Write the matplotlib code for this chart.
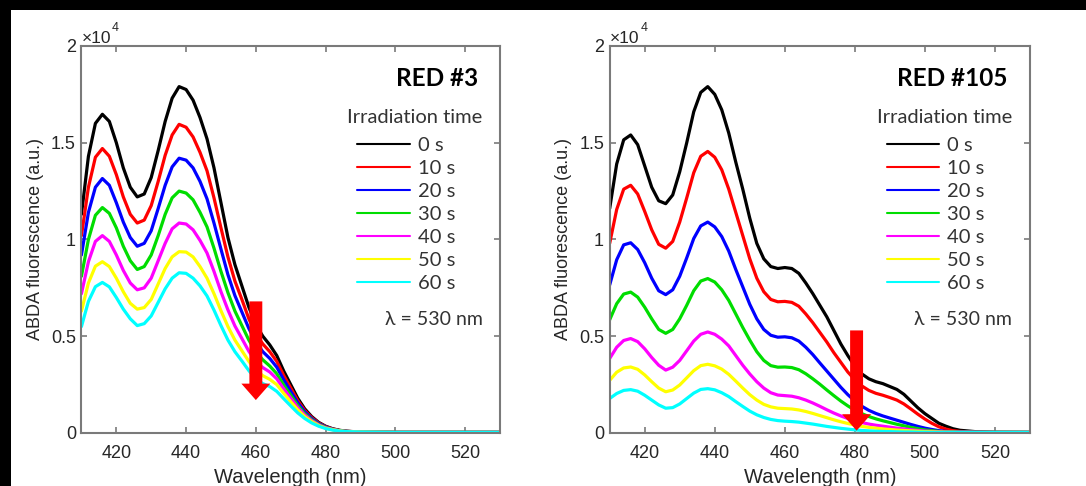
import numpy as np
import matplotlib
matplotlib.use("Agg")
import matplotlib.pyplot as plt
from matplotlib.patches import Rectangle

# ---- data (fluorescence in units of 1e4) ----
times = ["0 s", "10 s", "20 s", "30 s", "40 s", "50 s", "60 s"]
colors = ["#000000", "#ff0000", "#0000ff", "#00dd00", "#ff00ff", "#ffff00", "#00ffff"]

# RED #3
wl_red3 = list(range(410, 488, 2)) + [490, 495, 500, 510, 520, 530]
red3_tail = [0.005, 0.004, 0.003, 0.003, 0.003, 0.003]
red3_0s = [1.13, 1.43, 1.60, 1.647, 1.61, 1.50, 1.37, 1.27, 1.22, 1.235,
           1.32, 1.46, 1.61, 1.73, 1.79, 1.775, 1.72, 1.63, 1.52, 1.37,
           1.19, 1.01, 0.87, 0.76, 0.65, 0.56, 0.50, 0.455, 0.40, 0.32,
           0.25, 0.18, 0.125, 0.085, 0.055, 0.035, 0.022, 0.014, 0.009] + red3_tail
red3_10s = [1.02, 1.27, 1.425, 1.47, 1.43, 1.335, 1.22, 1.13, 1.085, 1.10,
            1.175, 1.30, 1.435, 1.54, 1.595, 1.58, 1.53, 1.45, 1.355, 1.215,
            1.06, 0.91, 0.785, 0.69, 0.59, 0.512, 0.46, 0.42, 0.37, 0.297,
            0.233, 0.168, 0.117, 0.08, 0.052, 0.033, 0.021, 0.013, 0.0085] + red3_tail
red3_20s = [0.92, 1.14, 1.27, 1.315, 1.28, 1.19, 1.09, 1.01, 0.965, 0.98,
            1.045, 1.16, 1.28, 1.375, 1.42, 1.41, 1.37, 1.30, 1.21, 1.085,
            0.95, 0.818, 0.71, 0.625, 0.54, 0.47, 0.42, 0.385, 0.34, 0.275,
            0.215, 0.157, 0.11, 0.075, 0.049, 0.031, 0.02, 0.012, 0.008] + red3_tail
red3_30s = [0.81, 1.0, 1.125, 1.165, 1.135, 1.06, 0.965, 0.89, 0.845, 0.86,
            0.92, 1.02, 1.13, 1.215, 1.25, 1.24, 1.205, 1.14, 1.065, 0.955,
            0.835, 0.725, 0.63, 0.555, 0.48, 0.42, 0.378, 0.346, 0.306, 0.248,
            0.195, 0.143, 0.10, 0.069, 0.045, 0.029, 0.019, 0.012, 0.008] + red3_tail
red3_40s = [0.72, 0.885, 0.99, 1.02, 0.99, 0.92, 0.84, 0.775, 0.74, 0.75,
            0.80, 0.89, 0.98, 1.055, 1.085, 1.08, 1.05, 0.995, 0.93, 0.835,
            0.73, 0.636, 0.553, 0.488, 0.422, 0.37, 0.338, 0.315, 0.28, 0.228,
            0.18, 0.132, 0.093, 0.064, 0.042, 0.027, 0.018, 0.011, 0.0075] + red3_tail
red3_50s = [0.63, 0.775, 0.862, 0.885, 0.86, 0.80, 0.73, 0.67, 0.64, 0.648,
            0.69, 0.77, 0.85, 0.91, 0.937, 0.935, 0.91, 0.86, 0.80, 0.72,
            0.632, 0.55, 0.48, 0.425, 0.37, 0.325, 0.296, 0.277, 0.25, 0.205,
            0.162, 0.12, 0.085, 0.059, 0.039, 0.025, 0.017, 0.011, 0.007] + red3_tail
red3_60s = [0.55, 0.68, 0.756, 0.778, 0.755, 0.70, 0.64, 0.59, 0.555, 0.565,
            0.605, 0.675, 0.745, 0.80, 0.828, 0.825, 0.80, 0.76, 0.708, 0.635,
            0.555, 0.48, 0.42, 0.372, 0.322, 0.28, 0.255, 0.24, 0.215, 0.177,
            0.14, 0.104, 0.075, 0.052, 0.035, 0.023, 0.015, 0.01, 0.007] + red3_tail

# RED #105
wl_red105 = list(range(410, 512, 2)) + [515, 520, 530]
red105_0s = [1.16, 1.39, 1.515, 1.54, 1.49, 1.38, 1.27, 1.20, 1.185, 1.23,
             1.35, 1.50, 1.66, 1.76, 1.79, 1.75, 1.67, 1.55, 1.40, 1.26,
             1.11, 0.98, 0.90, 0.86, 0.85, 0.855, 0.85, 0.825, 0.775, 0.72,
             0.66, 0.60, 0.53, 0.46, 0.40, 0.345, 0.305, 0.28, 0.265, 0.255,
             0.24, 0.225, 0.20, 0.165, 0.13, 0.10, 0.075, 0.05, 0.035, 0.022,
             0.014, 0.006, 0.004, 0.003]
red105_10s = [0.98, 1.155, 1.26, 1.28, 1.235, 1.145, 1.05, 0.975, 0.955, 0.99,
              1.09, 1.215, 1.345, 1.43, 1.455, 1.425, 1.36, 1.26, 1.14, 1.02,
              0.90, 0.80, 0.73, 0.69, 0.678, 0.68, 0.675, 0.655, 0.615, 0.57,
              0.52, 0.47, 0.415, 0.365, 0.315, 0.275, 0.243, 0.22, 0.205, 0.195,
              0.183, 0.17, 0.15, 0.124, 0.097, 0.072, 0.05, 0.032, 0.02, 0.012,
              0.008, 0.005, 0.003, 0.003]
red105_20s = [0.765, 0.895, 0.972, 0.983, 0.948, 0.88, 0.80, 0.735, 0.715, 0.74,
              0.81, 0.905, 1.005, 1.07, 1.09, 1.065, 1.015, 0.94, 0.845, 0.755,
              0.665, 0.59, 0.535, 0.505, 0.495, 0.497, 0.492, 0.475, 0.443, 0.405,
              0.362, 0.32, 0.278, 0.236, 0.198, 0.165, 0.138, 0.117, 0.101, 0.088,
              0.077, 0.066, 0.055, 0.044, 0.034, 0.025, 0.018, 0.012, 0.008, 0.006,
              0.005, 0.004, 0.003, 0.003]
red105_30s = [0.585, 0.668, 0.718, 0.728, 0.702, 0.65, 0.59, 0.535, 0.515, 0.535,
              0.59, 0.66, 0.735, 0.785, 0.798, 0.78, 0.74, 0.685, 0.615, 0.545,
              0.48, 0.42, 0.375, 0.348, 0.34, 0.341, 0.338, 0.327, 0.306, 0.28,
              0.252, 0.222, 0.193, 0.165, 0.14, 0.118, 0.10, 0.085, 0.073, 0.063,
              0.054, 0.045, 0.037, 0.029, 0.022, 0.016, 0.012, 0.008, 0.006, 0.005,
              0.004, 0.003, 0.003, 0.003]
red105_40s = [0.385, 0.443, 0.478, 0.488, 0.472, 0.435, 0.39, 0.35, 0.325, 0.34,
              0.375, 0.425, 0.475, 0.51, 0.522, 0.51, 0.485, 0.45, 0.40, 0.35,
              0.305, 0.265, 0.232, 0.208, 0.196, 0.193, 0.19, 0.182, 0.17, 0.155,
              0.138, 0.12, 0.103, 0.088, 0.075, 0.063, 0.054, 0.046, 0.04, 0.035,
              0.03, 0.025, 0.021, 0.017, 0.013, 0.01, 0.008, 0.006, 0.005, 0.004,
              0.004, 0.003, 0.003, 0.003]
red105_50s = [0.272, 0.314, 0.336, 0.341, 0.329, 0.30, 0.265, 0.232, 0.213, 0.222,
              0.248, 0.285, 0.322, 0.348, 0.355, 0.347, 0.33, 0.303, 0.268, 0.232,
              0.198, 0.17, 0.148, 0.135, 0.128, 0.126, 0.124, 0.119, 0.111, 0.101,
              0.09, 0.079, 0.068, 0.058, 0.049, 0.041, 0.034, 0.029, 0.025, 0.021,
              0.018, 0.015, 0.013, 0.011, 0.009, 0.007, 0.006, 0.005, 0.004, 0.004,
              0.003, 0.003, 0.003, 0.003]
red105_60s = [0.178, 0.204, 0.22, 0.224, 0.216, 0.195, 0.17, 0.145, 0.128, 0.131,
              0.15, 0.178, 0.206, 0.225, 0.229, 0.223, 0.208, 0.188, 0.162, 0.137,
              0.113, 0.094, 0.08, 0.07, 0.064, 0.061, 0.059, 0.056, 0.051, 0.046,
              0.04, 0.034, 0.029, 0.024, 0.02, 0.016, 0.013, 0.011, 0.009, 0.008,
              0.007, 0.006, 0.005, 0.005, 0.004, 0.004, 0.003, 0.003, 0.003, 0.003,
              0.003, 0.003, 0.003, 0.003]

series_red3 = [red3_0s, red3_10s, red3_20s, red3_30s, red3_40s, red3_50s, red3_60s]
series_red105 = [red105_0s, red105_10s, red105_20s, red105_30s, red105_40s, red105_50s, red105_60s]

tick_font = ["Liberation Sans", "DejaVu Sans"]
text_font = ["Lato", "DejaVu Sans"]
axis_grey = "#7a7a7a"
label_col = "#262626"
legend_col = "#333333"


def draw_panel(ax, wl, series, title, arrow_x, arrow_top, arrow_tip):
    for vals, lab, col in zip(series, times, colors):
        ax.plot(wl, vals, color=col, lw=2.3, label=lab,
                solid_joinstyle="round", solid_capstyle="round")

    ax.set_xlim(410, 530)
    ax.set_ylim(0, 2)
    ax.set_xticks([420, 440, 460, 480, 500, 520])
    ax.set_yticks([0, 0.5, 1, 1.5, 2])
    ax.set_yticklabels(["0", "0.5", "1", "1.5", "2"])
    ax.tick_params(direction="in", top=True, right=True, length=4, width=1.2,
                   color=axis_grey, labelcolor=label_col, labelsize=13)
    ax.tick_params(axis="x", pad=9)
    ax.tick_params(axis="y", pad=4)
    for lbl in ax.get_xticklabels() + ax.get_yticklabels():
        lbl.set_family(tick_font)
    for sp in ax.spines.values():
        sp.set_color(axis_grey)
        sp.set_linewidth(1.5)

    ax.set_xlabel("Wavelength (nm)", family=tick_font, fontsize=14.5, color=label_col, labelpad=4)
    ax.set_ylabel("ABDA fluorescence (a.u.)", family=tick_font, fontsize=13, color=label_col, labelpad=5)
    ax.text(0.0, 1.0, "×10", transform=ax.transAxes, ha="left", va="bottom",
            family=tick_font, fontsize=12.5, color=label_col)
    ax.text(0.073, 1.03, "4", transform=ax.transAxes, ha="left", va="bottom",
            family=tick_font, fontsize=9, color=label_col)

    ax.text(0.947, 0.915, title, transform=ax.transAxes, ha="right", va="center",
            family=text_font, fontsize=17.5, fontweight="bold", color="black")
    ax.text(0.958, 0.814, "Irradiation time", transform=ax.transAxes, ha="right", va="center",
            family=text_font, fontsize=14.5, color=legend_col)
    leg = ax.legend(loc="upper left", bbox_to_anchor=(0.659, 0.766), frameon=False,
                    prop={"family": text_font, "size": 14.5},
                    handlelength=2.6, handletextpad=0.4, labelspacing=0.3,
                    borderpad=0, borderaxespad=0)
    for t in leg.get_texts():
        t.set_color(legend_col)
    for ln in leg.get_lines():
        ln.set_linewidth(1.5)
    ax.text(0.958, 0.292, "λ = 530 nm", transform=ax.transAxes, ha="right", va="center",
            family=text_font, fontsize=14, color=legend_col)

    ax.arrow(arrow_x, arrow_top, 0, arrow_tip - arrow_top, width=3.7, head_width=8.3,
             head_length=0.085, length_includes_head=True, color="#ff0000", lw=0, zorder=6)


fig = plt.figure(figsize=(10.86, 4.86), dpi=100, facecolor="black")
fig.patches.append(Rectangle((11 / 1086, 0), 1, 476 / 486, transform=fig.transFigure,
                             facecolor="white", edgecolor="none", zorder=-1))

ax1 = fig.add_axes([0.0750, 0.1091, 0.3854, 0.7963])
ax2 = fig.add_axes([0.5614, 0.1091, 0.3870, 0.7963])

draw_panel(ax1, wl_red3, series_red3, "RED #3", 460, 0.68, 0.17)
draw_panel(ax2, wl_red105, series_red105, "RED #105", 480.5, 0.53, 0.012)

plt.savefig("out.png", dpi=100, facecolor=fig.get_facecolor())
